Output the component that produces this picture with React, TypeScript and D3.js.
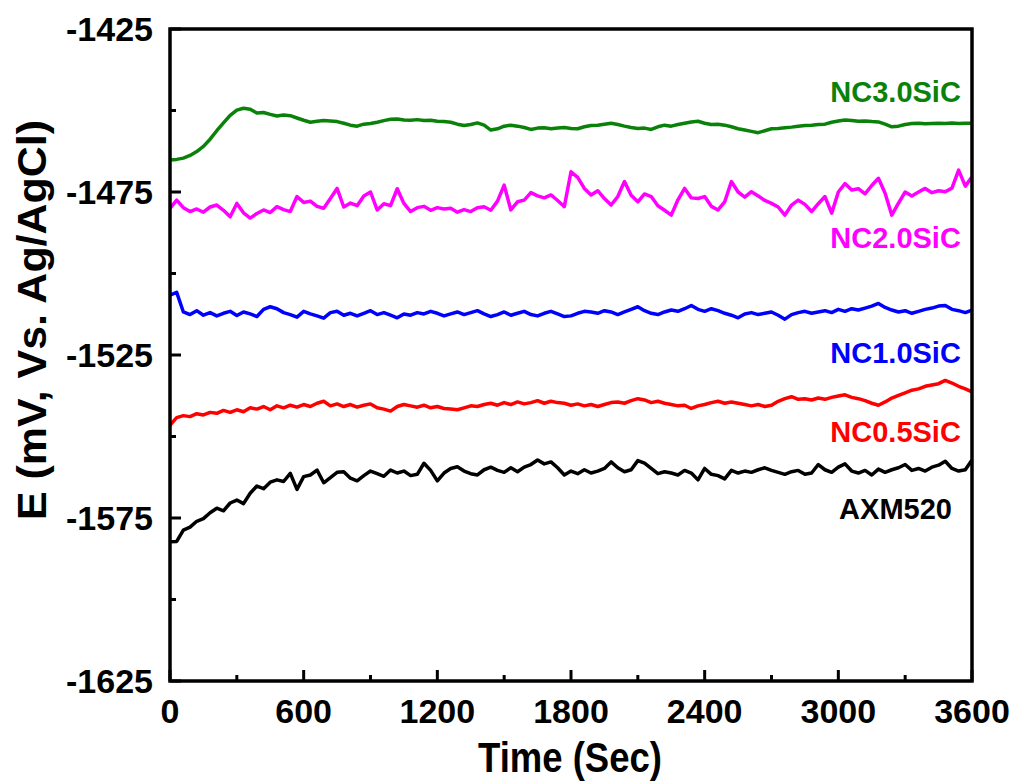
import React from "react";
import * as d3 from "d3";

const times: number[] = d3.range(0, 3601, 30);

const axm520: number[] = [
  -1582.3, -1582.2, -1578.7, -1577.8, -1576.0, -1575.2, -1573.4, -1572.0, -1572.8, -1570.4,
  -1569.5, -1570.6, -1567.4, -1565.2, -1566.0, -1564.0, -1563.3, -1563.8, -1561.3, -1566.2,
  -1562.3, -1561.8, -1560.3, -1564.2, -1562.6, -1561.0, -1560.8, -1562.8, -1563.6, -1562.0,
  -1560.6, -1561.4, -1562.2, -1560.3, -1561.2, -1560.6, -1562.0, -1561.6, -1558.2, -1560.4,
  -1563.6, -1561.2, -1559.8, -1559.3, -1560.6, -1561.4, -1561.8, -1560.2, -1559.4, -1560.4,
  -1561.0, -1559.6, -1560.8, -1559.4, -1558.6, -1557.2, -1558.4, -1557.8, -1559.6, -1561.8,
  -1560.6, -1561.4, -1560.2, -1561.2, -1560.6, -1559.8, -1557.8, -1559.6, -1560.8, -1560.2,
  -1557.4, -1558.2, -1559.8, -1561.4, -1560.8, -1561.2, -1561.8, -1560.4, -1561.2, -1563.3,
  -1559.8, -1561.6, -1562.0, -1563.0, -1560.4, -1561.2, -1560.6, -1561.0, -1560.2, -1559.6,
  -1560.4, -1561.0, -1561.6, -1560.8, -1560.4, -1561.6, -1561.2, -1558.6, -1560.2, -1561.0,
  -1559.4, -1558.4, -1560.6, -1561.2, -1560.4, -1561.8, -1560.0, -1561.0, -1560.2, -1559.6,
  -1558.6, -1560.4, -1559.8, -1560.6, -1559.4, -1558.8, -1557.6, -1559.8, -1560.6, -1560.2,
  -1557.2,
];

const nc05: number[] = [
  -1546.5, -1544.2, -1543.6, -1543.9, -1543.0, -1543.4, -1542.6, -1542.9, -1542.0, -1542.6,
  -1541.8, -1542.4, -1541.2, -1541.6, -1540.8, -1541.8, -1540.6, -1541.2, -1540.4, -1541.0,
  -1540.2, -1540.8, -1539.8, -1539.2, -1540.6, -1540.0, -1540.8, -1540.2, -1541.0, -1540.4,
  -1540.0, -1541.2, -1541.6, -1542.2, -1540.8, -1540.2, -1540.6, -1541.0, -1540.4, -1541.2,
  -1540.8, -1541.4, -1541.6, -1541.8, -1541.2, -1540.6, -1540.8, -1540.2, -1539.8, -1540.4,
  -1539.6, -1540.2, -1539.4, -1540.0, -1539.6, -1539.0, -1539.8, -1539.2, -1539.6, -1539.8,
  -1540.4, -1540.0, -1540.6, -1540.2, -1540.8, -1540.2, -1539.6, -1539.4, -1539.8, -1539.0,
  -1538.4, -1538.8, -1539.6, -1539.2, -1539.8, -1540.2, -1540.6, -1540.4, -1541.4, -1540.6,
  -1540.2, -1539.6, -1539.2, -1539.8, -1539.4, -1539.8, -1540.2, -1540.6, -1540.2, -1540.8,
  -1540.4, -1539.2, -1538.4, -1537.8, -1538.6, -1538.4, -1538.8, -1538.2, -1538.6, -1538.0,
  -1537.6, -1537.2, -1538.0, -1538.4, -1539.0, -1539.8, -1540.4, -1539.4, -1538.2, -1537.4,
  -1536.6, -1535.8, -1535.4, -1534.6, -1534.2, -1533.8, -1532.8, -1533.6, -1534.6, -1535.4,
  -1536.3,
];

const nc10: number[] = [
  -1506.6, -1505.8, -1511.8, -1512.6, -1511.4, -1512.8, -1512.0, -1513.0, -1512.2, -1511.6,
  -1512.9, -1511.8, -1512.4, -1513.2, -1511.0, -1510.2, -1510.8, -1512.0, -1512.6, -1513.4,
  -1511.6, -1512.4, -1513.0, -1513.7, -1512.0, -1511.6, -1512.8, -1512.2, -1513.0, -1512.2,
  -1511.4, -1512.6, -1512.0, -1512.8, -1513.6, -1512.4, -1512.8, -1512.0, -1512.4, -1511.6,
  -1512.2, -1513.0, -1512.4, -1511.8, -1512.6, -1512.0, -1511.4, -1512.4, -1513.2, -1512.6,
  -1511.8, -1512.8, -1512.2, -1511.6, -1512.6, -1513.0, -1512.2, -1511.6, -1512.4, -1513.2,
  -1513.0, -1512.2, -1511.6, -1511.8, -1512.2, -1511.4, -1511.8, -1512.6, -1511.8, -1511.0,
  -1510.2, -1511.4, -1512.2, -1512.6, -1511.8, -1511.2, -1511.6, -1510.8, -1509.8, -1511.0,
  -1511.6, -1510.8, -1511.4, -1512.2, -1512.8, -1513.6, -1512.4, -1512.0, -1512.6, -1512.2,
  -1511.8, -1512.8, -1514.0, -1512.6, -1512.0, -1511.6, -1512.2, -1511.8, -1511.4, -1512.0,
  -1511.0, -1511.6, -1510.8, -1511.2, -1510.6, -1510.0, -1509.2, -1510.4, -1511.2, -1511.8,
  -1511.4, -1512.2, -1511.6, -1511.0, -1510.6, -1510.0, -1509.8, -1511.0, -1511.4, -1512.0,
  -1511.2,
];

const nc20: number[] = [
  -1480.0, -1477.5, -1479.8, -1481.0, -1480.2, -1481.2, -1479.6, -1479.0, -1480.6, -1482.6,
  -1478.5, -1481.4, -1483.0, -1481.6, -1480.5, -1481.3, -1479.5, -1480.4, -1481.0, -1476.4,
  -1478.2, -1477.8, -1479.4, -1480.0, -1477.0, -1473.9, -1479.6, -1478.4, -1479.2, -1476.2,
  -1475.0, -1480.5, -1478.6, -1479.2, -1474.0, -1478.5, -1481.0, -1479.8, -1479.4, -1480.6,
  -1479.8, -1480.2, -1480.0, -1481.2, -1480.4, -1481.0, -1479.8, -1479.5, -1480.6, -1477.8,
  -1472.9, -1480.5, -1478.0, -1477.5, -1475.2, -1476.2, -1476.8, -1475.9, -1477.6, -1479.5,
  -1468.8, -1470.5, -1473.9, -1475.9, -1474.6, -1477.0, -1479.0, -1476.4, -1471.8, -1476.0,
  -1478.0, -1475.6, -1476.4, -1479.2, -1480.6, -1482.1, -1477.4, -1473.9, -1476.8, -1477.0,
  -1476.4, -1479.4, -1480.5, -1478.0, -1471.8, -1475.0, -1476.6, -1474.9, -1476.2, -1477.6,
  -1478.5, -1479.6, -1482.1, -1479.0, -1477.5, -1478.8, -1481.0, -1478.6, -1476.4, -1481.5,
  -1475.0, -1472.4, -1474.4, -1474.0, -1475.6, -1473.0, -1470.8, -1475.4, -1482.1, -1478.4,
  -1475.0, -1476.2, -1475.0, -1473.9, -1475.2, -1474.6, -1474.9, -1473.8, -1468.3, -1473.2,
  -1470.3,
];

const nc30: number[] = [
  -1465.2, -1465.0, -1464.6, -1463.8, -1462.6, -1461.0, -1458.8, -1456.2, -1453.8, -1451.5,
  -1449.9, -1449.3, -1449.6, -1450.8, -1450.6, -1451.2, -1451.7, -1451.4, -1451.6, -1452.3,
  -1453.0, -1453.6, -1453.3, -1453.1, -1453.2, -1453.4, -1453.9, -1454.5, -1454.8, -1454.2,
  -1454.0, -1453.6, -1453.1, -1452.7, -1452.6, -1452.9, -1453.0, -1452.8, -1453.1, -1453.0,
  -1453.3, -1453.4, -1453.6, -1454.2, -1454.6, -1454.3, -1453.8, -1454.5, -1456.0, -1455.6,
  -1454.8, -1454.5, -1454.8, -1455.2, -1455.8, -1455.4, -1455.3, -1455.6, -1455.4, -1455.2,
  -1455.5, -1455.6, -1455.0, -1454.6, -1454.5, -1454.2, -1453.9, -1454.3, -1454.8, -1455.2,
  -1455.5, -1455.4, -1455.8, -1455.0, -1454.5, -1454.8, -1454.3, -1453.9, -1453.5, -1453.3,
  -1453.9, -1454.3, -1454.2, -1454.5, -1455.0, -1455.6, -1456.0, -1456.4, -1456.8, -1456.2,
  -1455.6, -1455.5, -1455.3, -1455.1, -1454.8, -1454.6, -1454.5, -1454.3, -1454.2, -1453.6,
  -1453.2, -1452.9, -1453.1, -1453.3, -1453.2, -1453.4, -1453.5, -1454.2, -1455.0, -1454.8,
  -1454.3, -1454.0, -1453.9, -1454.1, -1454.0, -1453.9, -1454.0, -1453.8, -1454.0, -1453.9,
  -1453.9,
];

const seriesNames: string[] = ["AXM520", "NC0.5SiC", "NC1.0SiC", "NC2.0SiC", "NC3.0SiC"];
const seriesValues: number[][] = [axm520, nc05, nc10, nc20, nc30];
const seriesColors: string[] = ["#000000", "#ff0000", "#0000ff", "#ff00ff", "#0a820a"];
const labelPositions: { t: number; v: number }[] = [
  { t: 3510, v: -1575.2 },
  { t: 3550, v: -1551.7 },
  { t: 3550, v: -1527.5 },
  { t: 3550, v: -1492.3 },
  { t: 3550, v: -1447.4 },
];

const xTicks: number[] = [0, 600, 1200, 1800, 2400, 3000, 3600];
const xMinor: number[] = [300, 900, 1500, 2100, 2700, 3300];
const yTicks: number[] = [-1425, -1475, -1525, -1575, -1625];
const yMinor: number[] = [-1450, -1500, -1550, -1600];

const FONT = "Arial, 'Liberation Sans', Helvetica, sans-serif";

export default function App() {
  const W = 1017;
  const H = 783;
  const left = 170, right = 972, top = 29, bottom = 681;
  const x = d3.scaleLinear().domain([0, 3600]).range([left, right]);
  const y = d3.scaleLinear().domain([-1625, -1425]).range([bottom, top]);

  const line = d3
    .line<number>()
    .x((_, i) => x(times[i]))
    .y((d) => y(d));

  return (
    <svg
      width={W}
      height={H}
      style={{ position: "absolute", left: 0, top: 0, background: "#fff" }}
      fontFamily={FONT}
    >
      <rect x={0} y={0} width={W} height={H} fill="#fff" />
      {seriesValues.map((vals, k) => (
        <path
          key={seriesNames[k]}
          d={line(vals) || ""}
          fill="none"
          stroke={seriesColors[k]}
          strokeWidth={3.5}
          strokeLinejoin="round"
        />
      ))}
      {/* frame */}
      <rect
        x={left}
        y={top}
        width={right - left}
        height={bottom - top}
        fill="none"
        stroke="#000"
        strokeWidth={3.5}
      />
      {/* x ticks */}
      {xTicks.map((t) => (
        <g key={"xt" + t}>
          <line x1={x(t)} x2={x(t)} y1={bottom} y2={bottom - 11} stroke="#000" strokeWidth={3} />
          <text x={x(t)} y={723} textAnchor="middle" fontSize={34} fontWeight="bold">
            {t}
          </text>
        </g>
      ))}
      {xMinor.map((t) => (
        <line key={"xm" + t} x1={x(t)} x2={x(t)} y1={bottom} y2={bottom - 6} stroke="#000" strokeWidth={3} />
      ))}
      {/* y ticks */}
      {yTicks.map((v) => (
        <g key={"yt" + v}>
          <line x1={left} x2={left + 11} y1={y(v)} y2={y(v)} stroke="#000" strokeWidth={3} />
          <text x={153} y={y(v) + 12} textAnchor="end" fontSize={34} fontWeight="bold">
            {v}
          </text>
        </g>
      ))}
      {yMinor.map((v) => (
        <line key={"ym" + v} x1={left} x2={left + 6} y1={y(v)} y2={y(v)} stroke="#000" strokeWidth={3} />
      ))}
      {/* series labels */}
      {seriesNames.map((n, k) => (
        <text
          key={"lab" + n}
          x={x(labelPositions[k].t)}
          y={y(labelPositions[k].v)}
          textAnchor="end"
          fontSize={29}
          fontWeight="bold"
          fill={seriesColors[k]}
        >
          {n}
        </text>
      ))}
      {/* axis titles */}
      <text
        x={570}
        y={772}
        textAnchor="middle"
        fontSize={42}
        fontWeight="bold"
        textLength={184}
        lengthAdjust="spacingAndGlyphs"
      >
        Time (Sec)
      </text>
      <text
        transform={`translate(46, 320) rotate(-90)`}
        textAnchor="middle"
        fontSize={40}
        fontWeight="bold"
        textLength={400}
        lengthAdjust="spacingAndGlyphs"
      >
        E (mV, Vs. Ag/AgCl)
      </text>
    </svg>
  );
}
